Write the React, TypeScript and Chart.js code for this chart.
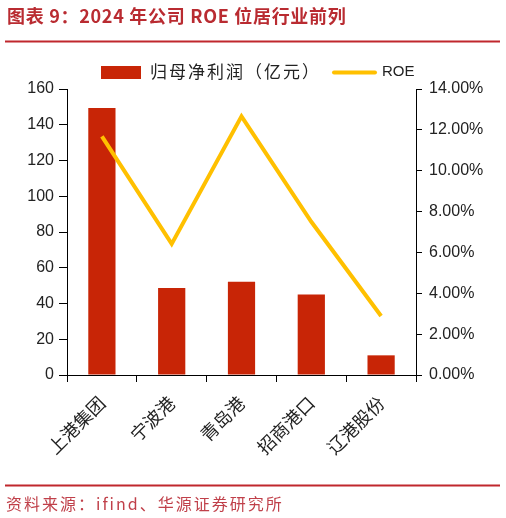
import React, { useEffect, useRef } from "react";
import { Chart, registerables } from "chart.js";

Chart.register(...registerables);

const categories = ["上港集团", "宁波港", "青岛港", "招商港口", "辽港股份"];
const profitValues = [149.4, 48.7, 52.1, 45.0, 11.0];
const roeValues = [11.68, 6.42, 12.66, 7.5, 2.89];
const leftTicks = [0, 20, 40, 60, 80, 100, 120, 140, 160];
const rightTicks = [0, 2, 4, 6, 8, 10, 12, 14];
const titleText = "图表 9：2024 年公司 ROE 位居行业前列";
const sourceText = "资料来源：ifind、华源证券研究所";
const barLabel = "归母净利润（亿元）";
const lineLabel = "ROE";

const W = 506;
const H = 518;
const BAR_COLOR = "#C82506";
const LINE_COLOR = "#FFC000";
const RED = "#B92B31";
const TICK_FONT = "'Liberation Sans', Arial, sans-serif";
const CJK_FONT = "'Noto Sans CJK SC', sans-serif";

const decorPlugin = {
  id: "decor",
  beforeDraw(chart: any) {
    const ctx = chart.ctx;
    ctx.save();
    ctx.fillStyle = "#fff";
    ctx.fillRect(0, 0, W, H);
    ctx.restore();
  },
  afterDraw(chart: any) {
    const ctx = chart.ctx;
    ctx.save();
    // title
    ctx.fillStyle = RED;
    ctx.font = `bold 18px ${CJK_FONT}`;
    (ctx as any).letterSpacing = "0.7px";
    ctx.textBaseline = "middle";
    ctx.textAlign = "left";
    ctx.fillText(titleText, 7, 16);
    // rules
    ctx.fillStyle = "#C0272D";
    ctx.fillRect(5, 40.5, 495, 2);
    ctx.fillRect(5, 484.5, 495, 2);
    // footer
    ctx.fillStyle = "#C0404A";
    ctx.font = `16px ${CJK_FONT}`;
    (ctx as any).letterSpacing = "2px";
    ctx.fillText(sourceText, 6, 504);
    // legend
    ctx.fillStyle = BAR_COLOR;
    ctx.fillRect(101, 66, 40, 13);
    ctx.fillStyle = "#222";
    ctx.font = `17px ${CJK_FONT}`;
    (ctx as any).letterSpacing = "2px";
    ctx.fillText(barLabel, 150, 72);
    (ctx as any).letterSpacing = "0px";
    ctx.strokeStyle = LINE_COLOR;
    ctx.lineWidth = 4;
    ctx.lineCap = "round";
    ctx.beginPath();
    ctx.moveTo(334, 72.5);
    ctx.lineTo(375, 72.5);
    ctx.stroke();
    ctx.fillStyle = "#222";
    ctx.font = `15px ${TICK_FONT}`;
    ctx.fillText(lineLabel, 382, 72);
    ctx.restore();
  },
};

export default function App() {
  const ref = useRef<HTMLCanvasElement | null>(null);

  useEffect(() => {
    if (!ref.current) return;
    const chart = new Chart(ref.current, {
      type: "bar",
      data: {
        labels: categories,
        datasets: [
          {
            type: "line",
            label: lineLabel,
            data: roeValues,
            yAxisID: "y1",
            borderColor: LINE_COLOR,
            backgroundColor: LINE_COLOR,
            borderWidth: 4,
            pointRadius: 0,
            tension: 0,
            order: 0,
          } as any,
          {
            type: "bar",
            label: barLabel,
            data: profitValues,
            yAxisID: "y",
            backgroundColor: BAR_COLOR,
            categoryPercentage: 1,
            barPercentage: 0.39,
            order: 1,
          } as any,
        ],
      },
      options: {
        responsive: false,
        animation: false,
        devicePixelRatio: 1,
        layout: { padding: { top: 89, left: 0, right: 0, bottom: 0 } },
        plugins: {
          legend: { display: false },
          title: { display: false },
          tooltip: { enabled: false },
        },
        scales: {
          x: {
            offset: true,
            grid: {
              offset: true,
              drawOnChartArea: false,
              drawTicks: true,
              tickLength: 7,
              color: "#000",
            },
            border: { display: true, color: "#000", width: 1 },
            ticks: {
              minRotation: 45,
              maxRotation: 45,
              color: "#222",
              font: { family: CJK_FONT, size: 18 },
              padding: 10,
            },
            afterFit(scale: any) {
              scale.height = 143;
            },
          },
          y: {
            position: "left",
            min: 0,
            max: 160,
            afterBuildTicks(scale: any) {
              scale.ticks = leftTicks.map((v) => ({ value: v }));
            },
            grid: {
              drawOnChartArea: false,
              drawTicks: true,
              tickLength: 8,
              color: "#000",
            },
            border: { display: true, color: "#000", width: 1 },
            ticks: {
              color: "#222",
              font: { family: TICK_FONT, size: 16 },
              padding: 5,
            },
            afterFit(scale: any) {
              scale.width = 67;
            },
          },
          y1: {
            position: "right",
            min: 0,
            max: 14,
            afterBuildTicks(scale: any) {
              scale.ticks = rightTicks.map((v) => ({ value: v }));
            },
            grid: {
              drawOnChartArea: false,
              drawTicks: true,
              tickLength: 6,
              color: "#000",
            },
            border: { display: true, color: "#000", width: 1 },
            ticks: {
              color: "#222",
              font: { family: TICK_FONT, size: 16 },
              padding: 7,
              callback: (v: any) => `${Number(v).toFixed(2)}%`,
            },
            afterFit(scale: any) {
              scale.width = 90;
            },
          },
        },
      },
      plugins: [decorPlugin],
    });
    return () => chart.destroy();
  }, []);

  return (
    <div style={{ position: "fixed", left: 0, top: 0, width: W, height: H, background: "#fff" }}>
      <canvas ref={ref} width={W} height={H} style={{ width: W, height: H, display: "block" }} />
    </div>
  );
}
